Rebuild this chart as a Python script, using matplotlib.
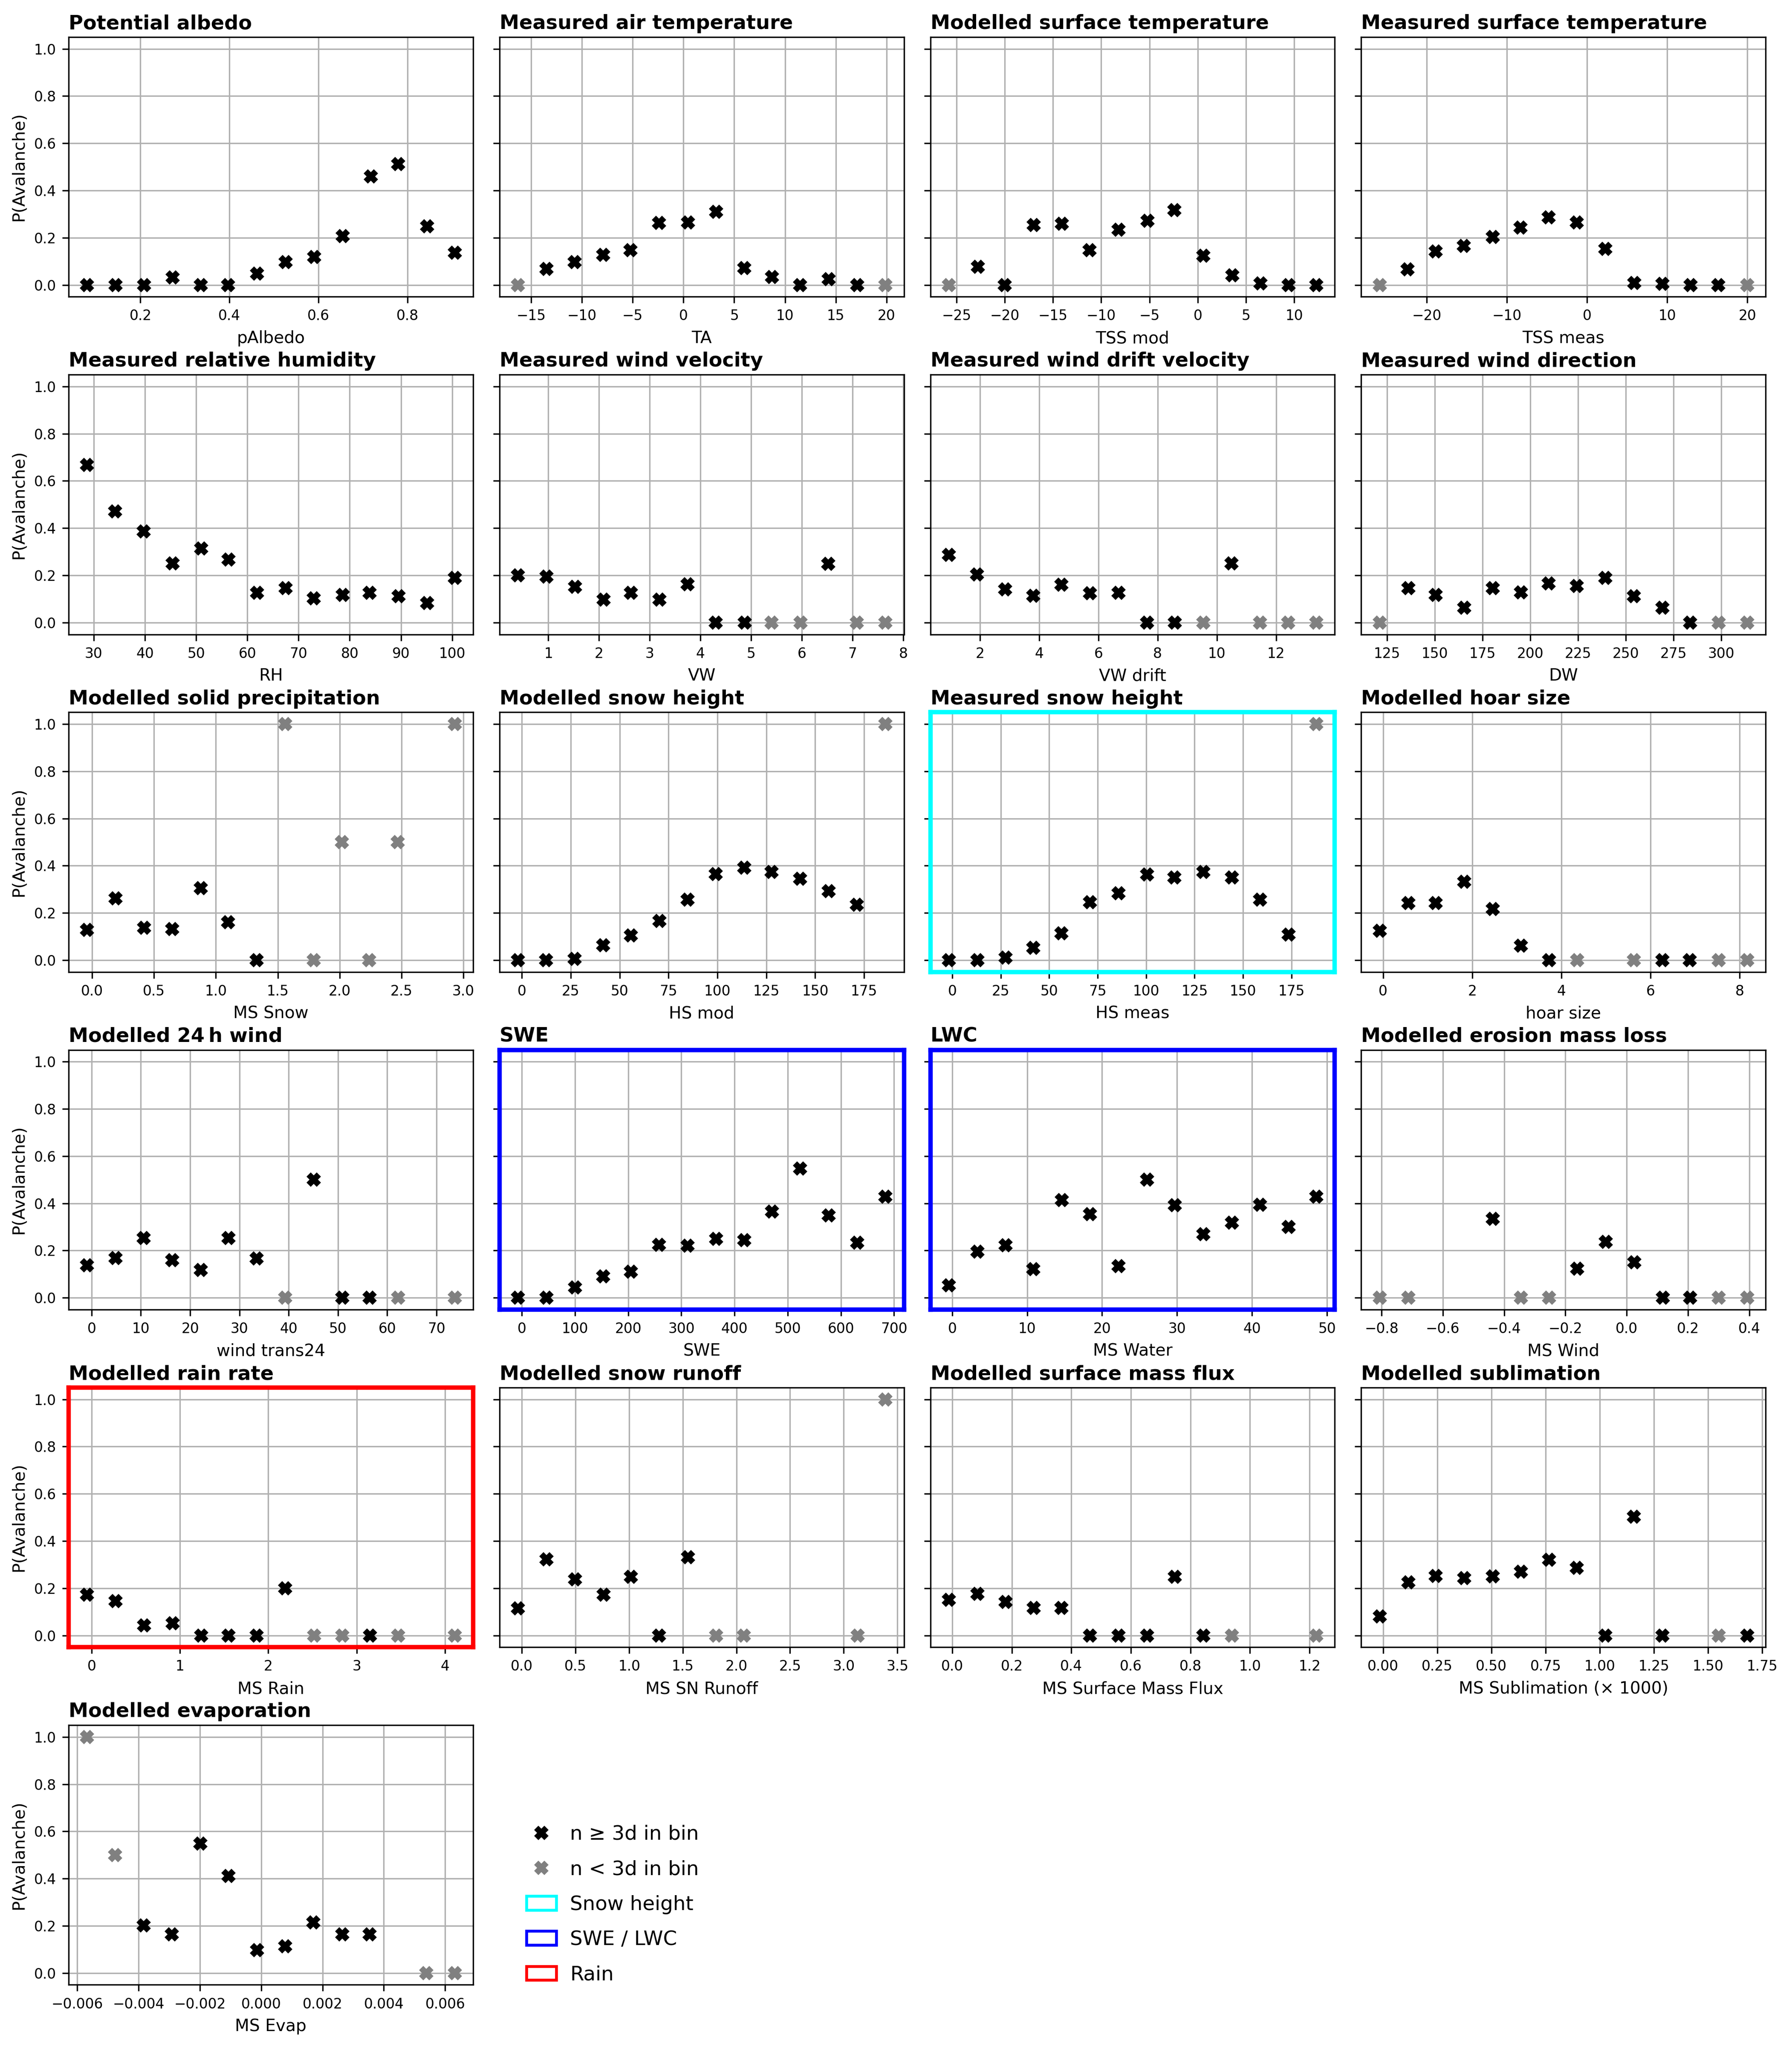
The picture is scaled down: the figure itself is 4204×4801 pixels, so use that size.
import matplotlib
matplotlib.use("Agg")
from matplotlib import pyplot as plt
from matplotlib.lines import Line2D
from matplotlib.patches import Patch

# bin centres, P(avalanche) and bins with too few days (index list)
albedo_x = [0.080, 0.144, 0.208, 0.272, 0.336, 0.397, 0.462, 0.526, 0.590, 0.654, 0.718, 0.779, 0.844, 0.906]
albedo_p = [0, 0, 0, 0.031, 0, 0, 0.048, 0.096, 0.119, 0.206, 0.459, 0.512, 0.248, 0.137]
albedo_few = []

ta_x = [-16.3, -13.5, -10.7, -7.9, -5.2, -2.4, 0.45, 3.2, 6.0, 8.7, 11.5, 14.3, 17.1, 19.9]
ta_p = [0, 0.068, 0.096, 0.128, 0.147, 0.262, 0.265, 0.310, 0.071, 0.034, 0, 0.025, 0, 0]
ta_few = [0, 13]

tssmod_x = [-25.8, -22.8, -20.0, -17.0, -14.1, -11.2, -8.2, -5.2, -2.4, 0.6, 3.6, 6.5, 9.4, 12.3]
tssmod_p = [0, 0.077, 0, 0.253, 0.259, 0.147, 0.234, 0.271, 0.317, 0.124, 0.041, 0.007, 0, 0]
tssmod_few = [0]

tssmeas_x = [-25.9, -22.4, -18.9, -15.4, -11.8, -8.3, -4.8, -1.3, 2.3, 5.9, 9.4, 12.9, 16.4, 20.0]
tssmeas_p = [0, 0.066, 0.142, 0.165, 0.204, 0.243, 0.287, 0.264, 0.153, 0.008, 0.005, 0, 0, 0]
tssmeas_few = [0, 13]

rh_x = [28.7, 34.2, 39.8, 45.4, 51.0, 56.3, 61.9, 67.5, 73.0, 78.6, 83.9, 89.5, 95.1, 100.5]
rh_p = [0.667, 0.471, 0.386, 0.251, 0.314, 0.266, 0.126, 0.146, 0.102, 0.117, 0.126, 0.111, 0.082, 0.190]
rh_few = []

vw_x = [0.40, 0.966, 1.53, 2.09, 2.63, 3.19, 3.75, 4.30, 4.87, 5.40, 5.97, 6.52, 7.08, 7.65]
vw_p = [0.200, 0.194, 0.152, 0.098, 0.126, 0.098, 0.163, 0, 0, 0, 0, 0.248, 0, 0]
vw_few = [9, 10, 12, 13]

vwdrift_x = [0.95, 1.90, 2.85, 3.80, 4.75, 5.71, 6.68, 7.65, 8.58, 9.54, 10.5, 11.45, 12.4, 13.36]
vwdrift_p = [0.286, 0.204, 0.141, 0.114, 0.161, 0.124, 0.126, 0, 0, 0, 0.251, 0, 0, 0]
vwdrift_few = [9, 11, 12, 13]

dw_x = [121.1, 136.1, 150.4, 165.4, 180.4, 195.1, 209.7, 224.4, 239.4, 254.3, 269.3, 283.7, 298.7, 313.7]
dw_p = [0, 0.146, 0.117, 0.063, 0.146, 0.128, 0.166, 0.155, 0.190, 0.111, 0.063, 0, 0, 0]
dw_few = [0, 12, 13]

snow_x = [-0.041, 0.189, 0.419, 0.649, 0.879, 1.10, 1.33, 1.56, 1.79, 2.02, 2.24, 2.47, 2.93]
snow_p = [0.129, 0.262, 0.137, 0.131, 0.306, 0.160, 0, 1.0, 0, 0.5, 0, 0.5, 1.0]
snow_few = [7, 8, 9, 10, 11, 12]

hsmod_x = [-2.0, 12.5, 27.1, 41.7, 55.7, 70.3, 84.8, 99.1, 113.7, 127.7, 142.3, 156.9, 171.4, 186.0]
hsmod_p = [0, 0, 0.006, 0.064, 0.105, 0.166, 0.256, 0.365, 0.391, 0.374, 0.344, 0.293, 0.234, 1.0]
hsmod_few = [13]

hsmeas_x = [-1.8, 13.0, 27.4, 41.9, 56.3, 71.1, 85.8, 100.6, 114.7, 129.5, 144.2, 158.7, 173.5, 187.9]
hsmeas_p = [0, 0, 0.011, 0.052, 0.114, 0.245, 0.283, 0.363, 0.350, 0.374, 0.350, 0.256, 0.109, 1.0]
hsmeas_few = [13]

hoar_x = [-0.077, 0.564, 1.18, 1.82, 2.46, 3.09, 3.72, 4.35, 5.63, 6.27, 6.88, 7.53, 8.17]
hoar_p = [0.125, 0.242, 0.242, 0.332, 0.216, 0.061, 0, 0, 0, 0, 0, 0, 0]
hoar_few = [7, 8, 11, 12]

wind24_x = [-0.93, 4.86, 10.6, 16.4, 22.2, 27.8, 33.5, 39.3, 45.1, 50.9, 56.4, 62.2, 73.7]
wind24_p = [0.137, 0.169, 0.253, 0.159, 0.117, 0.253, 0.166, 0, 0.501, 0, 0, 0, 0]
wind24_few = [7, 11, 12]

swe_x = [-7.5, 46, 100, 153, 205, 258, 312, 365, 418, 470, 523, 577, 631, 684]
swe_p = [0, 0, 0.044, 0.091, 0.111, 0.224, 0.220, 0.250, 0.244, 0.366, 0.547, 0.349, 0.233, 0.428]
swe_few = []

lwc_x = [-0.46, 3.36, 7.1, 10.84, 14.6, 18.4, 22.2, 26.0, 29.7, 33.5, 37.3, 41.1, 44.9, 48.6]
lwc_p = [0.052, 0.195, 0.222, 0.122, 0.414, 0.355, 0.134, 0.501, 0.393, 0.270, 0.318, 0.394, 0.300, 0.428]
lwc_few = []

mswind_x = [-0.806, -0.712, -0.437, -0.345, -0.253, -0.162, -0.069, 0.024, 0.117, 0.207, 0.300, 0.393]
mswind_p = [0, 0, 0.335, 0, 0, 0.124, 0.237, 0.150, 0, 0, 0, 0]
mswind_few = [0, 1, 3, 4, 10, 11]

rain_x = [-0.052, 0.271, 0.594, 0.916, 1.24, 1.55, 1.87, 2.19, 2.52, 2.84, 3.15, 3.47, 4.11]
rain_p = [0.172, 0.145, 0.042, 0.051, 0, 0, 0, 0.200, 0, 0, 0, 0, 0]
rain_few = [8, 9, 11, 12]

runoff_x = [-0.037, 0.229, 0.495, 0.761, 1.016, 1.28, 1.55, 1.81, 2.07, 3.13, 3.39]
runoff_p = [0.115, 0.322, 0.237, 0.173, 0.249, 0, 0.331, 0, 0, 0, 1.0]
runoff_few = [7, 8, 9, 10]

smf_x = [-0.0115, 0.0845, 0.179, 0.273, 0.367, 0.463, 0.559, 0.655, 0.747, 0.843, 0.939, 1.223]
smf_p = [0.150, 0.176, 0.141, 0.116, 0.116, 0, 0, 0, 0.249, 0, 0, 0]
smf_few = [10, 11]

subl_x = [-0.016, 0.116, 0.243, 0.375, 0.507, 0.636, 0.765, 0.894, 1.026, 1.158, 1.29, 1.549, 1.681]
subl_p = [0.080, 0.224, 0.252, 0.242, 0.250, 0.270, 0.320, 0.287, 0, 0.502, 0, 0, 0]
subl_few = [11]

evap_x = [-0.00568, -0.00476, -0.00383, -0.00291, -0.00198, -0.00107, -0.00013,
          0.00078, 0.00170, 0.00264, 0.00354, 0.00539, 0.00631]
evap_p = [1.0, 0.5, 0.201, 0.164, 0.549, 0.411, 0.097, 0.113, 0.214, 0.164, 0.164, 0, 0]
evap_few = [0, 1, 11, 12]

panels = [
    ('Potential albedo', 'pAlbedo', albedo_x, albedo_p, albedo_few, None),
    ('Measured air temperature', 'TA', ta_x, ta_p, ta_few, None),
    ('Modelled surface temperature', 'TSS mod', tssmod_x, tssmod_p, tssmod_few, None),
    ('Measured surface temperature', 'TSS meas', tssmeas_x, tssmeas_p, tssmeas_few, None),
    ('Measured relative humidity', 'RH', rh_x, rh_p, rh_few, None),
    ('Measured wind velocity', 'VW', vw_x, vw_p, vw_few, None),
    ('Measured wind drift velocity', 'VW drift', vwdrift_x, vwdrift_p, vwdrift_few, None),
    ('Measured wind direction', 'DW', dw_x, dw_p, dw_few, None),
    ('Modelled solid precipitation', 'MS Snow', snow_x, snow_p, snow_few, None),
    ('Modelled snow height', 'HS mod', hsmod_x, hsmod_p, hsmod_few, None),
    ('Measured snow height', 'HS meas', hsmeas_x, hsmeas_p, hsmeas_few, 'cyan'),
    ('Modelled hoar size', 'hoar size', hoar_x, hoar_p, hoar_few, None),
    ('Modelled 24\u2009h wind', 'wind trans24', wind24_x, wind24_p, wind24_few, None),
    ('SWE', 'SWE', swe_x, swe_p, swe_few, 'blue'),
    ('LWC', 'MS Water', lwc_x, lwc_p, lwc_few, 'blue'),
    ('Modelled erosion mass loss', 'MS Wind', mswind_x, mswind_p, mswind_few, None),
    ('Modelled rain rate', 'MS Rain', rain_x, rain_p, rain_few, 'red'),
    ('Modelled snow runoff', 'MS SN Runoff', runoff_x, runoff_p, runoff_few, None),
    ('Modelled surface mass flux', 'MS Surface Mass Flux', smf_x, smf_p, smf_few, None),
    ('Modelled sublimation', 'MS Sublimation (\u00d7 1000)', subl_x, subl_p, subl_few, None),
    ('Modelled evaporation', 'MS Evap', evap_x, evap_p, evap_few, None),
]

fig, axes = plt.subplots(6, 4, figsize=(4204 / 300, 4801 / 300), dpi=300, sharey=True)
fig.subplots_adjust(left=0.0383, right=0.9853, top=0.9819, bottom=0.0299,
                    wspace=0.0654, hspace=0.30)

for k, (title, xlabel, xs, ps, few, frame) in enumerate(panels):
    ax = axes.flat[k]
    ok_x = [x for i, x in enumerate(xs) if i not in few]
    ok_p = [p for i, p in enumerate(ps) if i not in few]
    few_x = [xs[i] for i in few]
    few_p = [ps[i] for i in few]
    ax.plot(ok_x, ok_p, linestyle='none', marker='X', color='black', markersize=6.5)
    ax.plot(few_x, few_p, linestyle='none', marker='X', color='gray', markersize=6.5)
    ax.set_title(title, loc='left', fontweight='bold', fontsize=11.1, pad=4.5)
    ax.set_xlabel(xlabel, fontsize=9.4)
    ax.set_ylim(-0.05, 1.05)
    ax.grid(True)
    ax.tick_params(labelsize=7.9)
    if k % 4 == 0:
        ax.set_ylabel('P(Avalanche)', fontsize=9.4)
    if frame is not None:
        for sp in ax.spines.values():
            sp.set_edgecolor(frame)
            sp.set_linewidth(2.5)

for ax in axes.flat[len(panels):]:
    ax.remove()

handles = [
    Line2D([], [], linestyle='none', marker='X', color='black', markersize=6.5, label='n \u2265 3d in bin'),
    Line2D([], [], linestyle='none', marker='X', color='gray', markersize=6.5, label='n < 3d in bin'),
    Patch(facecolor='white', edgecolor='cyan', linewidth=1.6, label='Snow height'),
    Patch(facecolor='white', edgecolor='blue', linewidth=1.6, label='SWE / LWC'),
    Patch(facecolor='white', edgecolor='red', linewidth=1.6, label='Rain'),
]
fig.legend(handles=handles, loc='lower left', bbox_to_anchor=(0.2837, 0.0214),
           frameon=False, fontsize=11.2, labelspacing=0.8, handlelength=1.5,
           handletextpad=0.7)

fig.savefig('out.png', dpi=300)
